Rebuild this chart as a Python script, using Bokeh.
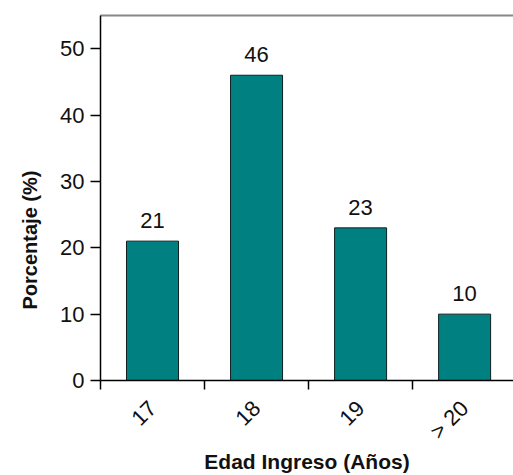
import math
from bokeh.plotting import figure
from bokeh.models import (ColumnDataSource, Range1d, FixedTicker, LabelSet,
                          LinearAxis, Title)
from bokeh.core.properties import value
from bokeh.embed import file_html
from bokeh.resources import INLINE

# ---- data ----
categories = ["17", "18", "19", "> 20"]
values = [21, 46, 23, 10]
y_ticks = [0, 10, 20, 30, 40, 50]

FONT = "Liberation Sans"
TEAL = "#008080"

idx = list(range(len(categories)))
centers = [i + 0.5 for i in idx]
source = ColumnDataSource(dict(x=centers, top=values,
                               label=[str(v) for v in values]))

p = figure(width=513, height=475, output_backend="svg", toolbar_location=None,
           x_range=Range1d(0, 3.97), y_range=Range1d(0, 55),
           min_border_left=100, min_border_right=0, min_border_top=15,
           min_border_bottom=94, outline_line_color=None,
           background_fill_color="white", border_fill_color="white")
p.grid.visible = False

p.vbar(x="x", top="top", width=0.5, bottom=0, source=source,
       fill_color=TEAL, line_color="#102020", line_width=1)

labels = LabelSet(x="x", y="top", text="label", source=source,
                  text_align="center", text_baseline="bottom", y_offset=13,
                  text_font=value(FONT), text_font_size=value("22px"),
                  text_color="#111111")
p.add_layout(labels)

# x axis
xa = p.xaxis[0]
xa.ticker = FixedTicker(ticks=centers, minor_ticks=idx)
xa.major_label_overrides = {c: lab for c, lab in zip(centers, categories)}
xa.major_label_orientation = math.pi / 4
xa.major_tick_line_color = None
xa.minor_tick_out = 9
xa.minor_tick_in = 0
xa.minor_tick_line_color = "black"
xa.minor_tick_line_width = 1.5
xa.axis_line_color = "black"
xa.axis_line_width = 1.5
xa.major_label_text_font = FONT
xa.major_label_text_font_size = "22px"
xa.major_label_text_color = "#111111"
xa.major_label_standoff = 15
xa.axis_label = "Edad Ingreso (Años)"
xa.axis_label_text_font = FONT
xa.axis_label_text_font_style = "bold"
xa.axis_label_text_font_size = "21px"
xa.axis_label_text_color = "#111111"
xa.axis_label_standoff = -6

# y axis
ya = p.yaxis[0]
ya.ticker = FixedTicker(ticks=y_ticks, minor_ticks=[])
ya.major_tick_out = 10
ya.major_tick_in = 0
ya.major_tick_line_width = 1.5
ya.axis_line_width = 1.5
ya.major_label_text_font = FONT
ya.major_label_text_font_size = "22px"
ya.major_label_text_color = "#111111"
ya.major_label_standoff = 6

p.add_layout(Title(text="Porcentaje (%)", align="left", offset=71,
                   text_font=FONT, text_font_style="bold",
                   text_font_size="20px", text_color="#111111",
                   standoff=33), "left")

# top border line
top = LinearAxis(ticker=FixedTicker(ticks=[]), axis_line_color="#888888",
                 axis_line_width=2, major_label_text_font_size="0px",
                 major_tick_line_color=None, minor_tick_line_color=None)
p.add_layout(top, "above")

open("out.html", "w").write(file_html(p, INLINE))
